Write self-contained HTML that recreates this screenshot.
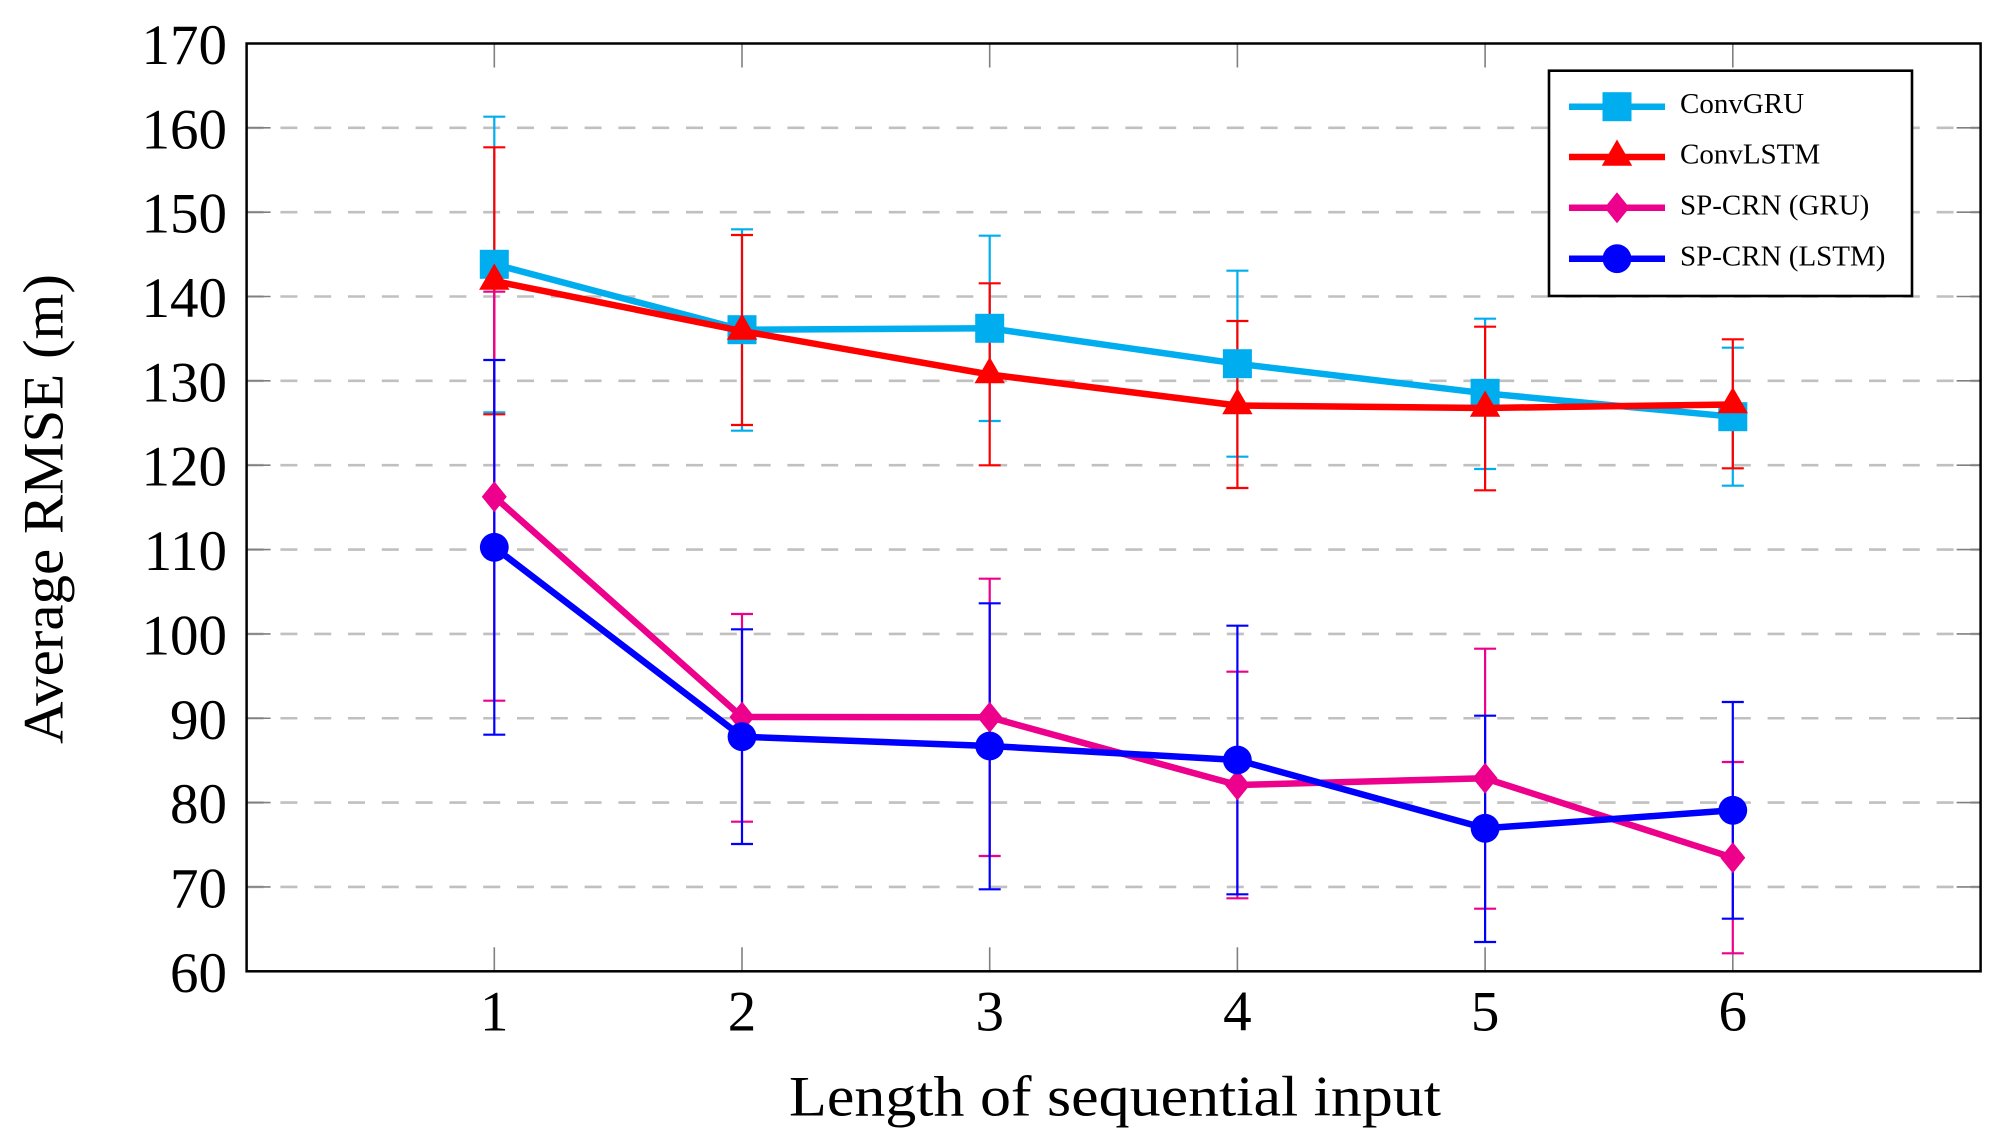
<!DOCTYPE html>
<html>
<head>
<meta charset="utf-8">
<style>
  html, body { margin: 0; padding: 0; background: #ffffff; }
  svg { display: block; }
  text { font-family: "Liberation Serif", serif; fill: #000; }
</style>
</head>
<body>
<svg width="2000" height="1144" viewBox="0 0 2000 1144" xmlns="http://www.w3.org/2000/svg">
  <rect x="0" y="0" width="2000" height="1144" fill="#ffffff"/>

  <!-- horizontal dashed grid -->
  <g stroke="#c0c0c0" stroke-width="2.6" stroke-dasharray="17 16.8" fill="none">
    <line x1="246.6" y1="886.95" x2="1980.6" y2="886.95"/>
    <line x1="246.6" y1="802.6" x2="1980.6" y2="802.6"/>
    <line x1="246.6" y1="718.25" x2="1980.6" y2="718.25"/>
    <line x1="246.6" y1="633.9" x2="1980.6" y2="633.9"/>
    <line x1="246.6" y1="549.55" x2="1980.6" y2="549.55"/>
    <line x1="246.6" y1="465.2" x2="1980.6" y2="465.2"/>
    <line x1="246.6" y1="380.85" x2="1980.6" y2="380.85"/>
    <line x1="246.6" y1="296.5" x2="1980.6" y2="296.5"/>
    <line x1="246.6" y1="212.15" x2="1980.6" y2="212.15"/>
    <line x1="246.6" y1="127.8" x2="1980.6" y2="127.8"/>
  </g>

  <!-- ticks -->
  <g stroke="#808080" stroke-width="1.6">
    <!-- y ticks left -->
    <line x1="246.6" y1="886.95" x2="270.6" y2="886.95"/>
    <line x1="246.6" y1="802.6" x2="270.6" y2="802.6"/>
    <line x1="246.6" y1="718.25" x2="270.6" y2="718.25"/>
    <line x1="246.6" y1="633.9" x2="270.6" y2="633.9"/>
    <line x1="246.6" y1="549.55" x2="270.6" y2="549.55"/>
    <line x1="246.6" y1="465.2" x2="270.6" y2="465.2"/>
    <line x1="246.6" y1="380.85" x2="270.6" y2="380.85"/>
    <line x1="246.6" y1="296.5" x2="270.6" y2="296.5"/>
    <line x1="246.6" y1="212.15" x2="270.6" y2="212.15"/>
    <line x1="246.6" y1="127.8" x2="270.6" y2="127.8"/>
    <!-- y ticks right -->
    <line x1="1956.6" y1="886.95" x2="1980.6" y2="886.95"/>
    <line x1="1956.6" y1="802.6" x2="1980.6" y2="802.6"/>
    <line x1="1956.6" y1="718.25" x2="1980.6" y2="718.25"/>
    <line x1="1956.6" y1="633.9" x2="1980.6" y2="633.9"/>
    <line x1="1956.6" y1="549.55" x2="1980.6" y2="549.55"/>
    <line x1="1956.6" y1="465.2" x2="1980.6" y2="465.2"/>
    <line x1="1956.6" y1="380.85" x2="1980.6" y2="380.85"/>
    <line x1="1956.6" y1="296.5" x2="1980.6" y2="296.5"/>
    <line x1="1956.6" y1="212.15" x2="1980.6" y2="212.15"/>
    <line x1="1956.6" y1="127.8" x2="1980.6" y2="127.8"/>
    <!-- x ticks bottom -->
    <line x1="494.3" y1="971.3" x2="494.3" y2="947.3"/>
    <line x1="742.0" y1="971.3" x2="742.0" y2="947.3"/>
    <line x1="989.7" y1="971.3" x2="989.7" y2="947.3"/>
    <line x1="1237.4" y1="971.3" x2="1237.4" y2="947.3"/>
    <line x1="1485.1" y1="971.3" x2="1485.1" y2="947.3"/>
    <line x1="1732.8" y1="971.3" x2="1732.8" y2="947.3"/>
    <!-- x ticks top -->
    <line x1="494.3" y1="43.5" x2="494.3" y2="67.5"/>
    <line x1="742.0" y1="43.5" x2="742.0" y2="67.5"/>
    <line x1="989.7" y1="43.5" x2="989.7" y2="67.5"/>
    <line x1="1237.4" y1="43.5" x2="1237.4" y2="67.5"/>
    <line x1="1485.1" y1="43.5" x2="1485.1" y2="67.5"/>
    <line x1="1732.8" y1="43.5" x2="1732.8" y2="67.5"/>
  </g>

  <!-- error bars (all series) -->
  <g stroke-width="2.2" fill="none">
    <!-- ConvGRU -->
    <g stroke="#00AEEF">
      <path d="M494.3 116.7V412.3M483.3 116.7H505.3M483.3 412.3H505.3"/>
      <path d="M742 229.3V430.7M731 229.3H753M731 430.7H753"/>
      <path d="M989.7 235.7V421M978.7 235.7H1000.7M978.7 421H1000.7"/>
      <path d="M1237.4 270.7V456.7M1226.4 270.7H1248.4M1226.4 456.7H1248.4"/>
      <path d="M1485.1 318.7V469M1474.1 318.7H1496.1M1474.1 469H1496.1"/>
      <path d="M1732.8 347.7V485.7M1721.8 347.7H1743.8M1721.8 485.7H1743.8"/>
    </g>
    <!-- ConvLSTM -->
    <g stroke="#FF0000">
      <path d="M494.3 147.3V414.3M483.3 147.3H505.3M483.3 414.3H505.3"/>
      <path d="M742 235V425M731 235H753M731 425H753"/>
      <path d="M989.7 283.3V465.3M978.7 283.3H1000.7M978.7 465.3H1000.7"/>
      <path d="M1237.4 321V488M1226.4 321H1248.4M1226.4 488H1248.4"/>
      <path d="M1485.1 326.7V490.3M1474.1 326.7H1496.1M1474.1 490.3H1496.1"/>
      <path d="M1732.8 339.3V468.3M1721.8 339.3H1743.8M1721.8 468.3H1743.8"/>
    </g>
    <!-- SP-CRN (GRU) -->
    <g stroke="#EC008C">
      <path d="M494.3 291.7V700.7M483.3 291.7H505.3M483.3 700.7H505.3"/>
      <path d="M742 614V821.7M731 614H753M731 821.7H753"/>
      <path d="M989.7 578.7V856M978.7 578.7H1000.7M978.7 856H1000.7"/>
      <path d="M1237.4 671.7V898.3M1226.4 671.7H1248.4M1226.4 898.3H1248.4"/>
      <path d="M1485.1 648.7V908.7M1474.1 648.7H1496.1M1474.1 908.7H1496.1"/>
      <path d="M1732.8 762V953.3M1721.8 762H1743.8M1721.8 953.3H1743.8"/>
    </g>
    <!-- SP-CRN (LSTM) -->
    <g stroke="#0000FF">
      <path d="M494.3 360V734.7M483.3 360H505.3M483.3 734.7H505.3"/>
      <path d="M742 629.3V844M731 629.3H753M731 844H753"/>
      <path d="M989.7 603.3V889.3M978.7 603.3H1000.7M978.7 889.3H1000.7"/>
      <path d="M1237.4 625.7V894.3M1226.4 625.7H1248.4M1226.4 894.3H1248.4"/>
      <path d="M1485.1 715.7V942M1474.1 715.7H1496.1M1474.1 942H1496.1"/>
      <path d="M1732.8 702V918.7M1721.8 702H1743.8M1721.8 918.7H1743.8"/>
    </g>
  </g>

  <!-- ConvGRU line + markers -->
  <polyline fill="none" stroke="#00AEEF" stroke-width="6.5" stroke-linejoin="round"
    points="494.3,264.3 742,329.7 989.7,328.3 1237.4,363.7 1485.1,393.3 1732.8,416.7"/>
  <g fill="#00AEEF">
    <rect x="479.8" y="249.8" width="29" height="29"/>
    <rect x="727.5" y="315.2" width="29" height="29"/>
    <rect x="975.2" y="313.8" width="29" height="29"/>
    <rect x="1222.9" y="349.2" width="29" height="29"/>
    <rect x="1470.6" y="378.8" width="29" height="29"/>
    <rect x="1718.3" y="402.2" width="29" height="29"/>
  </g>

  <!-- ConvLSTM line + markers -->
  <polyline fill="none" stroke="#FF0000" stroke-width="6.5" stroke-linejoin="round"
    points="494.3,281 742,331 989.7,374.5 1237.4,405.5 1485.1,408 1732.8,404.5"/>
  <g fill="#FF0000">
    <path d="M494.3 263.5L509.5 289.8L479.1 289.8Z"/>
    <path d="M742 313.5L757.2 339.8L726.8 339.8Z"/>
    <path d="M989.7 357L1004.9 383.3L974.5 383.3Z"/>
    <path d="M1237.4 388L1252.6 414.3L1222.2 414.3Z"/>
    <path d="M1485.1 390.5L1500.3 416.8L1469.9 416.8Z"/>
    <path d="M1732.8 387L1748 413.3L1717.6 413.3Z"/>
  </g>

  <!-- SP-CRN (GRU) line + markers -->
  <polyline fill="none" stroke="#EC008C" stroke-width="6.5" stroke-linejoin="round"
    points="494.3,496.7 742,717 989.7,717.3 1237.4,785 1485.1,778.3 1732.8,857.7"/>
  <g fill="#EC008C">
    <path d="M494.3 481.2L506.8 496.7L494.3 512.2L481.8 496.7Z"/>
    <path d="M742 701.5L754.5 717L742 732.5L729.5 717Z"/>
    <path d="M989.7 701.8L1002.2 717.3L989.7 732.8L977.2 717.3Z"/>
    <path d="M1237.4 769.5L1249.9 785L1237.4 800.5L1224.9 785Z"/>
    <path d="M1485.1 762.8L1497.6 778.3L1485.1 793.8L1472.6 778.3Z"/>
    <path d="M1732.8 842.2L1745.3 857.7L1732.8 873.2L1720.3 857.7Z"/>
  </g>

  <!-- SP-CRN (LSTM) line + markers -->
  <polyline fill="none" stroke="#0000FF" stroke-width="6.5" stroke-linejoin="round"
    points="494.3,547.3 742,736.7 989.7,746 1237.4,760 1485.1,828.3 1732.8,810.3"/>
  <g fill="#0000FF">
    <circle cx="494.3" cy="547.3" r="14.4"/>
    <circle cx="742" cy="736.7" r="14.4"/>
    <circle cx="989.7" cy="746" r="14.4"/>
    <circle cx="1237.4" cy="760" r="14.4"/>
    <circle cx="1485.1" cy="828.3" r="14.4"/>
    <circle cx="1732.8" cy="810.3" r="14.4"/>
  </g>

  <!-- axis frame -->
  <rect x="246.6" y="43.5" width="1734" height="927.8" fill="none" stroke="#000" stroke-width="2.5"/>

  <!-- legend -->
  <rect x="1549" y="70.7" width="363" height="225.3" fill="#ffffff" stroke="#000" stroke-width="2.6"/>
  <g>
    <line x1="1569" y1="106.7" x2="1665" y2="106.7" stroke="#00AEEF" stroke-width="6.5"/>
    <rect x="1602.5" y="92.2" width="29" height="29" fill="#00AEEF"/>
    <text x="1680" y="113" font-size="29">ConvGRU</text>

    <line x1="1569" y1="157" x2="1665" y2="157" stroke="#FF0000" stroke-width="6.5"/>
    <path d="M1617 139.5L1632.2 165.8L1601.8 165.8Z" fill="#FF0000"/>
    <text x="1680" y="163.5" font-size="29">ConvLSTM</text>

    <line x1="1569" y1="207.7" x2="1665" y2="207.7" stroke="#EC008C" stroke-width="6.5"/>
    <path d="M1617 192.2L1629.5 207.7L1617 223.2L1604.5 207.7Z" fill="#EC008C"/>
    <text x="1680" y="214.5" font-size="29">SP-CRN (GRU)</text>

    <line x1="1569" y1="258.7" x2="1665" y2="258.7" stroke="#0000FF" stroke-width="6.5"/>
    <circle cx="1617" cy="258.7" r="14.4" fill="#0000FF"/>
    <text x="1680" y="265.5" font-size="29">SP-CRN (LSTM)</text>
  </g>

  <!-- y tick labels -->
  <g font-size="57" text-anchor="end">
    <text x="227" y="992">60</text>
    <text x="227" y="907.5">70</text>
    <text x="227" y="823.1">80</text>
    <text x="227" y="738.8">90</text>
    <text x="227" y="654.4">100</text>
    <text x="227" y="570.1">110</text>
    <text x="227" y="485.7">120</text>
    <text x="227" y="401.4">130</text>
    <text x="227" y="317">140</text>
    <text x="227" y="232.7">150</text>
    <text x="227" y="148.3">160</text>
    <text x="227" y="64">170</text>
  </g>

  <!-- x tick labels -->
  <g font-size="57" text-anchor="middle">
    <text x="494.3" y="1030.7">1</text>
    <text x="742" y="1030.7">2</text>
    <text x="989.7" y="1030.7">3</text>
    <text x="1237.4" y="1030.7">4</text>
    <text x="1485.1" y="1030.7">5</text>
    <text x="1732.8" y="1030.7">6</text>
  </g>

  <!-- axis labels -->
  <text x="789" y="1115.7" font-size="57" textLength="652" lengthAdjust="spacingAndGlyphs">Length of sequential input</text>
  <text transform="translate(62.5,744) rotate(-90)" x="0" y="0" font-size="57" textLength="470" lengthAdjust="spacingAndGlyphs">Average RMSE (m)</text>
</svg>
</body>
</html>
